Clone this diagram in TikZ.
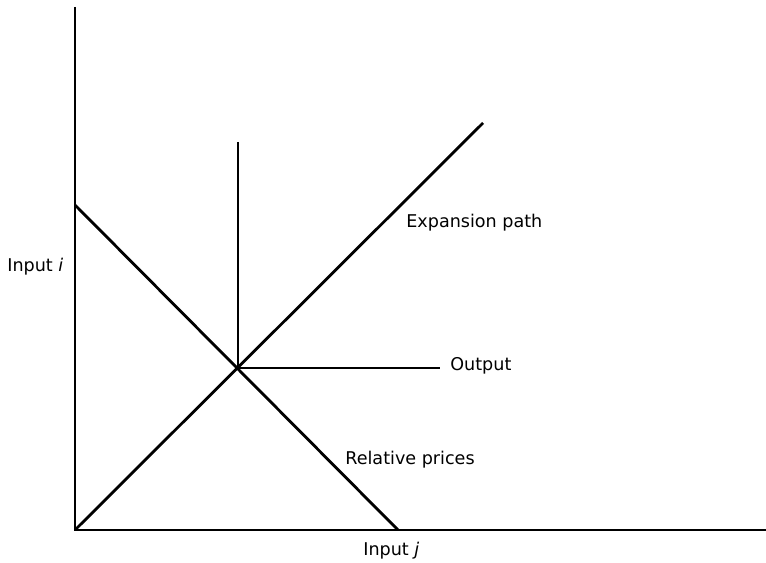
\documentclass[tikz,border=0pt]{standalone}
\usepackage{fontspec}
\setmainfont{DejaVu Sans}
\begin{document}
\begin{tikzpicture}[x=0.02cm, y=0.02cm,
  axis/.style={line width=1.1pt},
  curve/.style={line width=1.6pt},
  lbl/.style={font=\fontsize{10}{12}\selectfont, inner sep=0pt, anchor=base west}
]
  \useasboundingbox (-75,-33) rectangle (691,530);
  \coordinate (orig)  at (0,0);
  \coordinate (ytop)  at (0,523);
  \coordinate (xend)  at (691,0);
  \coordinate (eq)    at (163,162);
  \coordinate (exp)   at (408,407);
  \coordinate (pi)    at (0,325);
  \coordinate (pj)    at (323,0);
  \coordinate (outv)  at (163,388);
  \coordinate (outh)  at (365,162);

  \node[lbl] (inpi)   at (-68,258) {Input \textit{i}};
  \node[lbl] (inpj)   at (288,-26) {Input \textit{j}};
  \node[lbl] (explbl) at (331,302) {Expansion path};
  \node[lbl] (outlbl) at (375,159) {Output};
  \node[lbl] (rellbl) at (270,65)  {Relative prices};

  \draw[axis] (ytop) -- (orig) -- (xend);
  \draw[curve] (orig) -- (exp);
  \draw[curve] (pi) -- (pj);
  \draw[curve] (outv) -- (eq) -- (outh);
\end{tikzpicture}
\end{document}
